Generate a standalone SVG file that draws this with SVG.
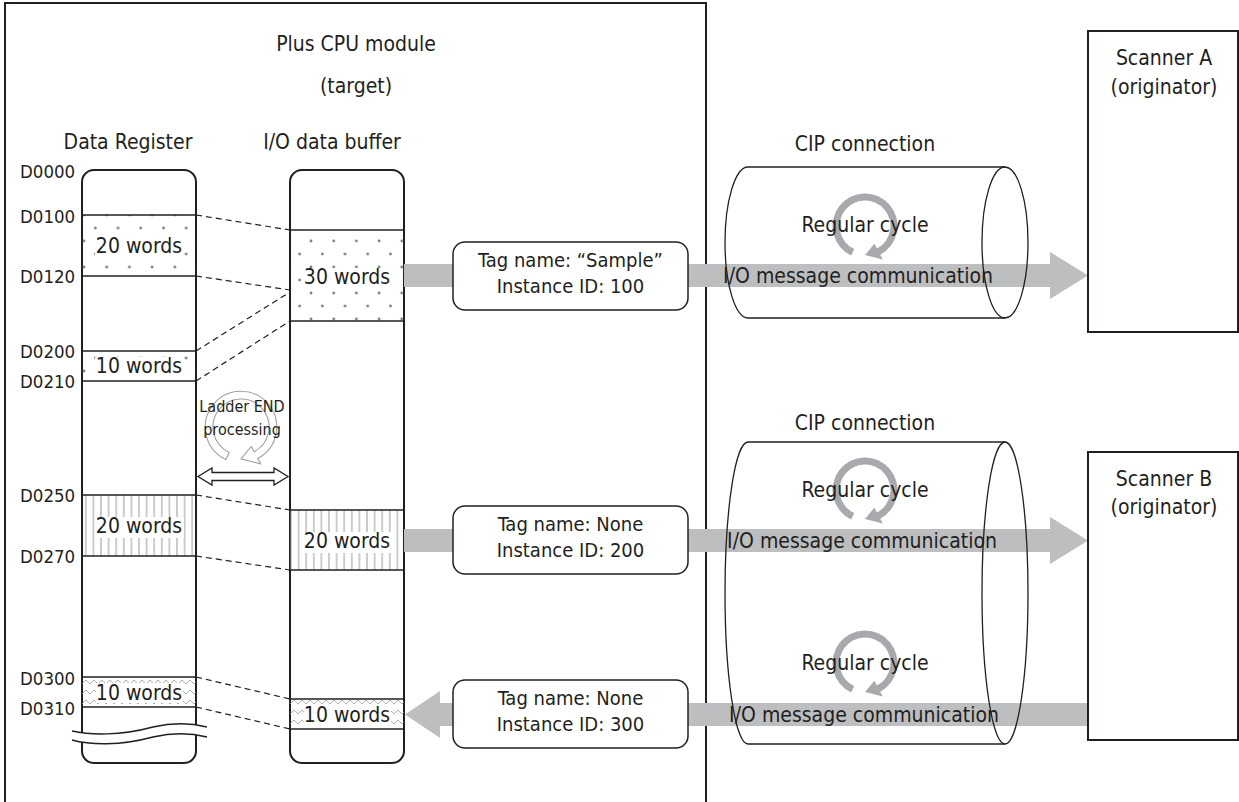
<svg xmlns="http://www.w3.org/2000/svg" width="1239" height="802" viewBox="0 0 1239 802">
<style>
.t{font-family:"DejaVu Sans Condensed","DejaVu Sans",sans-serif;fill:#231f20;text-anchor:middle;}
.h{font-size:21px;}
.w{font-size:21px;}
.l{font-size:18.5px;text-anchor:start;}
.b{font-size:20px;}
.s{font-size:16px;}
.ln{stroke:#231f20;stroke-width:1.5;fill:none;}
.frame{stroke:#231f20;stroke-width:2;fill:none;}
.col{stroke:#231f20;stroke-width:2;fill:#fff;}
.dash{stroke:#231f20;stroke-width:1.2;stroke-dasharray:6,4;fill:none;}
.band{fill:#bcbec0;}
.cyl{stroke:#231f20;stroke-width:1.3;fill:none;}
.ko{fill:#fff;}
</style>
<defs>
<pattern id="dots" patternUnits="userSpaceOnUse" width="22.7" height="26" x="84" y="215">
<circle cx="0" cy="0" r="1.4" fill="#808080"/>
<circle cx="22.7" cy="0" r="1.4" fill="#808080"/>
<circle cx="0" cy="26" r="1.4" fill="#808080"/>
<circle cx="22.7" cy="26" r="1.4" fill="#808080"/>
<circle cx="11.35" cy="13" r="1.4" fill="#808080"/>
</pattern>
<pattern id="vh" patternUnits="userSpaceOnUse" width="7.6" height="10" x="82" y="0">
<line x1="3.8" y1="0" x2="3.8" y2="10" stroke="#9a9a9a" stroke-width="1"/>
</pattern>
<pattern id="zz" patternUnits="userSpaceOnUse" width="8" height="10" x="82" y="677">
<path d="M0,7 L4,3 L8,7" stroke="#9a9a9a" stroke-width="0.8" fill="none"/>
</pattern>
<path id="ring" d="M-13.73,29.45 A32.5,32.5 0 1 1 15.26,28.69 L17.84,33.55 L0,29 L9.39,17.66 L11.97,22.51 A25.5,25.5 0 1 0 -10.78,23.11 Z"/>
</defs>

<g id="cpu-module">
<rect class="frame" x="5" y="3" width="701" height="830"/>
<text class="t h" x="356" y="51">Plus CPU module</text>
<text class="t h" x="356" y="93">(target)</text>
</g>

<g id="data-register">
<text class="t h" x="128" y="149">Data Register</text>
<rect class="col" x="82" y="170" width="114" height="593" rx="12"/>
<rect x="82" y="215" width="114" height="61" fill="url(#dots)"/>
<rect x="82" y="351" width="114" height="30" fill="url(#dots)"/>
<rect x="82" y="495" width="114" height="61" fill="url(#vh)"/>
<rect x="82" y="677" width="114" height="30" fill="url(#zz)"/>
<line class="ln" x1="82" y1="215" x2="196" y2="215"/>
<line class="ln" x1="82" y1="276" x2="196" y2="276"/>
<line class="ln" x1="82" y1="351" x2="196" y2="351"/>
<line class="ln" x1="82" y1="381" x2="196" y2="381"/>
<line class="ln" x1="82" y1="495" x2="196" y2="495"/>
<line class="ln" x1="82" y1="556" x2="196" y2="556"/>
<line class="ln" x1="82" y1="677" x2="196" y2="677"/>
<line class="ln" x1="82" y1="707" x2="196" y2="707"/>
<rect class="ko" x="95" y="237" width="89" height="21"/>
<text class="t w" x="139" y="253">20 words</text>
<rect class="ko" x="95" y="357" width="89" height="20"/>
<text class="t w" x="139" y="373">10 words</text>
<rect class="ko" x="95" y="517" width="89" height="21"/>
<text class="t w" x="139" y="533">20 words</text>
<rect class="ko" x="96" y="683" width="87" height="20"/>
<text class="t w" x="139" y="700">10 words</text>
<path d="M72,731 C90,735 120,736 153,727 C175,722 195,724 207,727 L207,737 C195,734 175,732 153,737 C120,746 90,745 72,740 Z" fill="#fff"/>
<path d="M72,731 C90,735 120,736 153,727 C175,722 195,724 207,727" class="ln" stroke-width="1.2"/>
<path d="M72,740 C90,745 120,746 153,737 C175,732 195,734 207,737" class="ln" stroke-width="1.2"/>
<text class="t l" x="20" y="178">D0000</text>
<text class="t l" x="20" y="223">D0100</text>
<text class="t l" x="20" y="283">D0120</text>
<text class="t l" x="20" y="358">D0200</text>
<text class="t l" x="20" y="388">D0210</text>
<text class="t l" x="20" y="502">D0250</text>
<text class="t l" x="20" y="563">D0270</text>
<text class="t l" x="20" y="685">D0300</text>
<text class="t l" x="20" y="715">D0310</text>
</g>

<g id="io-buffer">
<text class="t h" x="332" y="149">I/O data buffer</text>
<rect class="col" x="290" y="170" width="114" height="593" rx="12"/>
<rect x="290" y="230" width="114" height="91" fill="url(#dots)"/>
<rect x="290" y="510" width="114" height="60" fill="url(#vh)"/>
<rect x="290" y="699" width="114" height="30" fill="url(#zz)"/>
<line class="ln" x1="290" y1="230" x2="404" y2="230"/>
<line class="ln" x1="290" y1="321" x2="404" y2="321"/>
<line class="ln" x1="290" y1="510" x2="404" y2="510"/>
<line class="ln" x1="290" y1="570" x2="404" y2="570"/>
<line class="ln" x1="290" y1="699" x2="404" y2="699"/>
<line class="ln" x1="290" y1="729" x2="404" y2="729"/>
<rect class="ko" x="303" y="268" width="89" height="21"/>
<text class="t w" x="347" y="284">30 words</text>
<rect class="ko" x="303" y="532" width="89" height="21"/>
<text class="t w" x="347" y="548">20 words</text>
<rect class="ko" x="304" y="705" width="87" height="20"/>
<text class="t w" x="347" y="722">10 words</text>
</g>

<g id="ladder-end">
<use href="#ring" transform="translate(241,427) scale(1.1)" fill="#fff" stroke="#a0a0a0" stroke-width="1"/>
<text class="t s" x="242" y="412">Ladder END</text>
<text class="t s" x="242" y="435">processing</text>
<path d="M198,476.5 L212,468 L212,472.5 L274,472.5 L274,468 L288,476.5 L274,485 L274,480.5 L212,480.5 L212,485 Z" fill="#fff" stroke="#231f20" stroke-width="1.3"/>
</g>

<g id="connectors">
<line class="dash" x1="196" y1="215" x2="290" y2="230"/>
<line class="dash" x1="196" y1="276" x2="290" y2="290"/>
<line class="dash" x1="196" y1="351" x2="290" y2="292"/>
<line class="dash" x1="196" y1="381" x2="290" y2="321"/>
<line class="dash" x1="196" y1="495" x2="290" y2="510"/>
<line class="dash" x1="196" y1="556" x2="290" y2="570"/>
<line class="dash" x1="196" y1="677" x2="290" y2="699"/>
<line class="dash" x1="196" y1="707" x2="290" y2="729"/>
<rect class="band" x="404" y="264" width="49" height="23"/>
<rect class="band" x="688" y="264" width="362" height="23"/>
<polygon class="band" points="1050,252 1088,275.5 1050,299"/>
<rect class="band" x="404" y="529" width="49" height="23"/>
<rect class="band" x="688" y="529" width="362" height="23"/>
<polygon class="band" points="1050,517 1088,540.5 1050,564"/>
<rect class="band" x="688" y="703" width="400" height="23"/>
<rect class="band" x="439" y="703" width="14" height="23"/>
<polygon class="band" points="440,691 405,714.5 440,738"/>
</g>

<g id="tag-sample">
<rect x="453" y="242" width="235" height="68" rx="12" fill="#fff" stroke="#231f20" stroke-width="1.5"/>
<text class="t b" x="570.5" y="267">Tag name:  “Sample”</text>
<text class="t b" x="570.5" y="293">Instance ID: 100</text>
</g>
<g id="tag-200">
<rect x="453" y="506" width="235" height="68" rx="12" fill="#fff" stroke="#231f20" stroke-width="1.5"/>
<text class="t b" x="570.5" y="531">Tag name: None</text>
<text class="t b" x="570.5" y="557">Instance ID: 200</text>
</g>
<g id="tag-300">
<rect x="453" y="680" width="235" height="68" rx="12" fill="#fff" stroke="#231f20" stroke-width="1.5"/>
<text class="t b" x="570.5" y="705">Tag name: None</text>
<text class="t b" x="570.5" y="731">Instance ID: 300</text>
</g>

<g id="cip-connection-a">
<text class="t h" x="865" y="151">CIP connection</text>
<path class="cyl" d="M748,167 L1005,167 M748,318 L1005,318 M748,167 A23,75.5 0 0 0 748,318"/>
<ellipse class="cyl" cx="1005" cy="242.5" rx="23" ry="75.5"/>
<use href="#ring" transform="translate(865,226)" fill="#a7a9ac"/>
<text class="t w" x="865" y="232">Regular cycle</text>
<text class="t w" x="858" y="283">I/O message communication</text>
</g>

<g id="cip-connection-b">
<text class="t h" x="865" y="430">CIP connection</text>
<path class="cyl" d="M748,442 L1005,442 M748,744 L1005,744 M748,442 A23,151 0 0 0 748,744"/>
<ellipse class="cyl" cx="1005" cy="593" rx="23" ry="151"/>
<use href="#ring" transform="translate(865,490)" fill="#a7a9ac"/>
<text class="t w" x="865" y="497">Regular cycle</text>
<text class="t w" x="862" y="548">I/O message communication</text>
<use href="#ring" transform="translate(865,663)" fill="#a7a9ac"/>
<text class="t w" x="865" y="670">Regular cycle</text>
<text class="t w" x="864" y="722">I/O message communication</text>
</g>

<g id="scanner-a">
<rect x="1088" y="31" width="150" height="301" fill="#fff" stroke="#231f20" stroke-width="2"/>
<text class="t h" x="1164" y="65">Scanner A</text>
<text class="t h" x="1164" y="94">(originator)</text>
</g>
<g id="scanner-b">
<rect x="1088" y="452" width="150" height="288" fill="#fff" stroke="#231f20" stroke-width="2"/>
<text class="t h" x="1164" y="486">Scanner B</text>
<text class="t h" x="1164" y="514">(originator)</text>
</g>
</svg>
